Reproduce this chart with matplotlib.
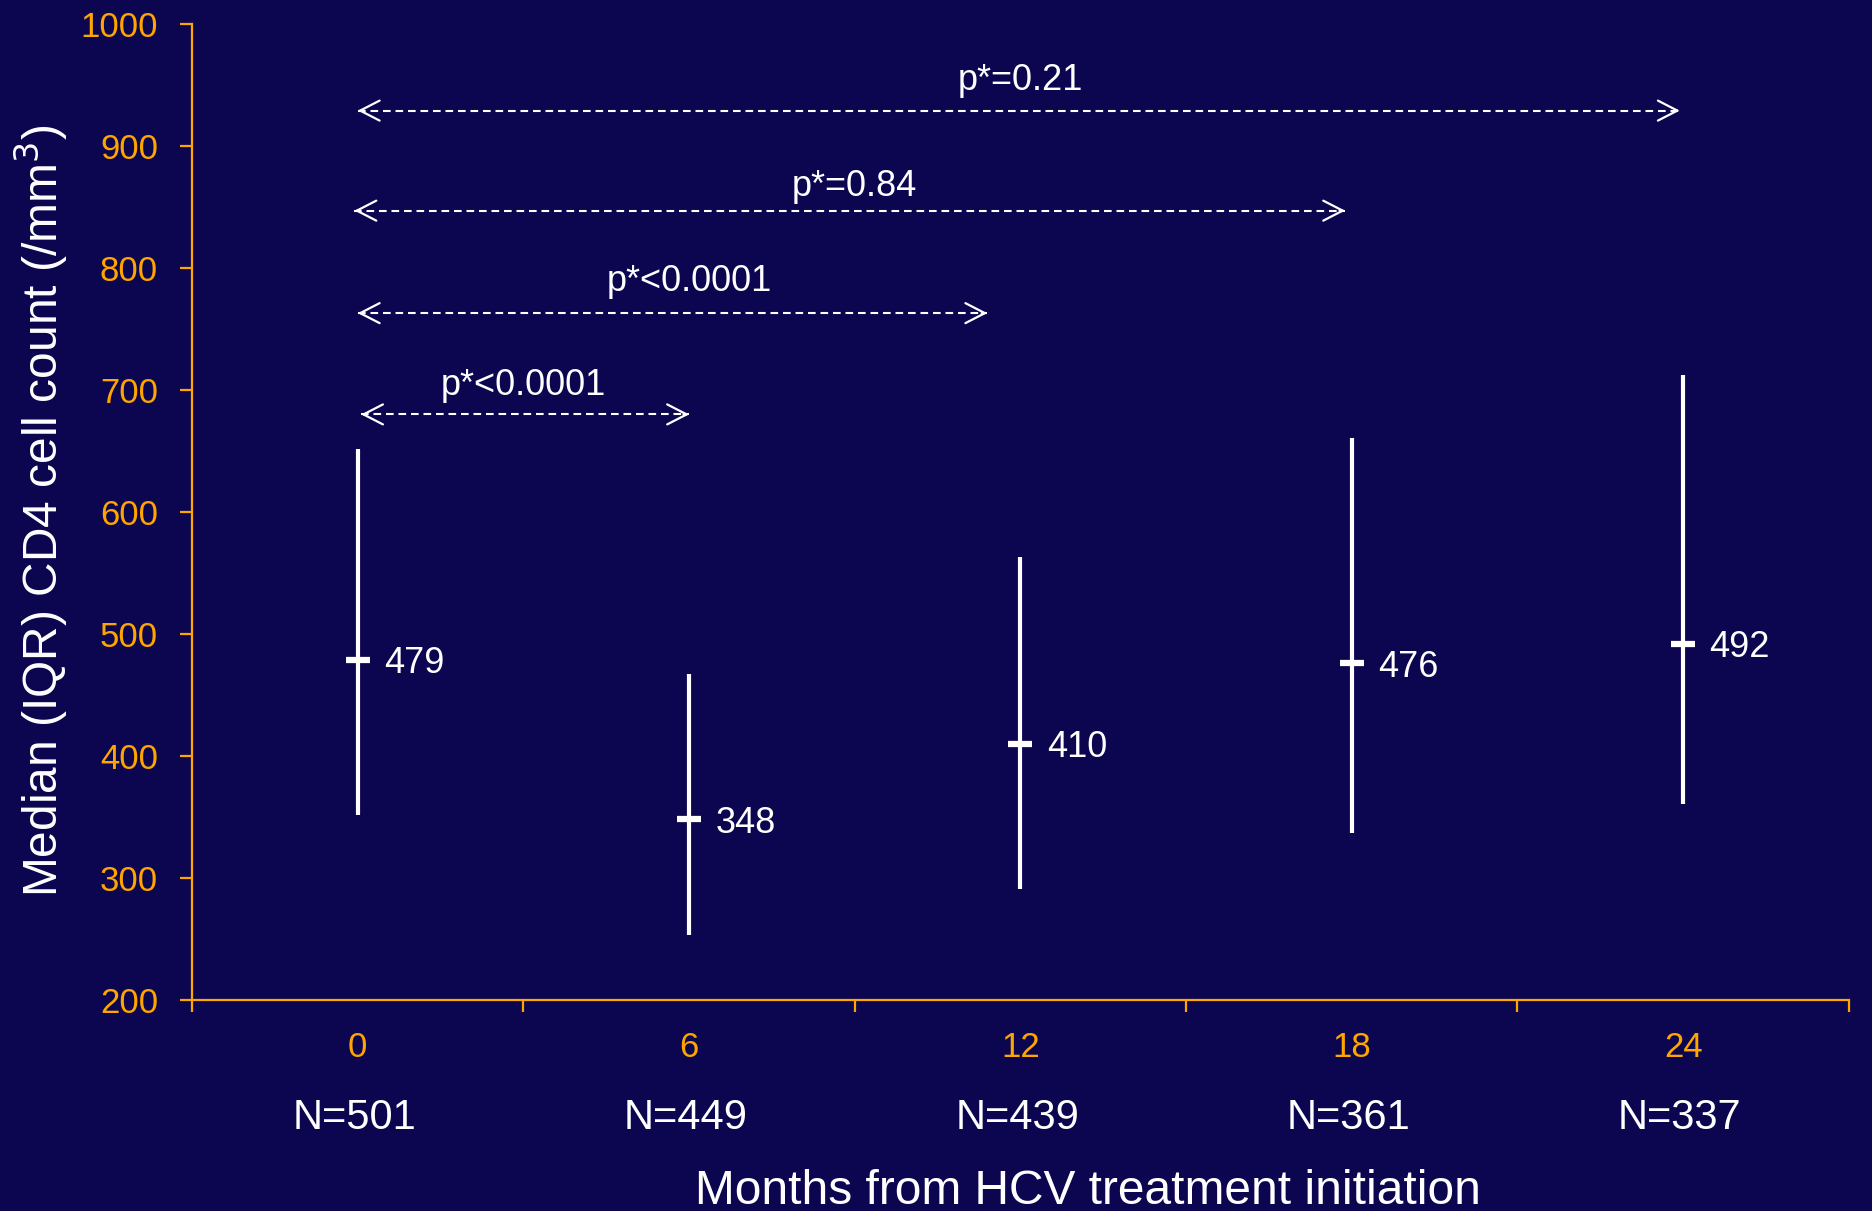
import matplotlib
matplotlib.use("Agg")
import matplotlib.pyplot as plt
import numpy as np

# Median (IQR) CD4 counts by months from HCV treatment start
months = ["0", "6", "12", "18", "24"]
n_patients = [501, 449, 439, 361, 337]
median_cd4 = [479, 348, 410, 476, 492]
q1_cd4 = [352, 253, 291, 337, 361]
q3_cd4 = [652, 467, 563, 661, 712]

# comparisons against month 0 (dashed double arrows)
p_labels = ["p*<0.0001", "p*<0.0001", "p*=0.84", "p*=0.21"]
compare_to = [1, 2, 3, 4]
arrow_start = [0.01, 0.0, -0.01, 0.0]
arrow_end = [1.0, 1.9, 2.98, 3.99]
arrow_y = [680, 763, 847, 929]
label_y = [707, 792, 870, 957]

bg = "#0b064f"
orange = "#ffa500"
white = "white"

plt.rcParams["font.family"] = ["Liberation Sans", "DejaVu Sans"]
plt.rcParams["lines.scale_dashes"] = False

fig = plt.figure(figsize=(18.72, 12.11), dpi=100, facecolor=bg)
ax = fig.add_axes([0.1026, 0.1742, 0.885, 0.806])
ax.set_facecolor(bg)

x = np.arange(len(months))

# IQR bars and median marks
ax.vlines(x, q1_cd4, q3_cd4, color=white, lw=3)
ax.plot(x, median_cd4, ls="none", marker="_", ms=17, mew=4.5, color=white)
for xi, m in zip(x, median_cd4):
    ax.annotate(str(m), (xi, m), xytext=(19, 0), textcoords="offset points",
                ha="left", va="center_baseline", color=white, fontsize=26)

# dashed comparison arrows
for x0, x1, y, k, lab, ly in zip(arrow_start, arrow_end, arrow_y, compare_to, p_labels, label_y):
    ax.plot([x0, x1], [y, y], color=white, lw=1.5, dashes=(5.5, 3.5))
    head = dict(arrowstyle="->,head_length=0.7,head_width=0.36", color=white,
                lw=1.6, mutation_scale=20, shrinkA=0, shrinkB=0)
    ax.annotate("", xy=(x1, y), xytext=(-4, 0), textcoords="offset points", arrowprops=head)
    ax.annotate("", xy=(x0, y), xytext=(4, 0), textcoords="offset points", arrowprops=head)
    ax.text(k / 2, ly, lab, ha="center", va="center_baseline", color=white, fontsize=26)

ax.set_xlim(-0.5, len(months) - 0.5)
ax.set_ylim(200, 1000)

for side in ["top", "right"]:
    ax.spines[side].set_visible(False)
for side in ["left", "bottom"]:
    ax.spines[side].set_color(orange)
    ax.spines[side].set_linewidth(1.6)

ax.set_yticks(np.arange(200, 1001, 100))
ax.tick_params(axis="y", colors=orange, labelsize=25, length=8.6, width=1.6, pad=16)

ax.set_xticks(x)
ax.set_xticklabels(months)
ax.set_xticks(np.arange(-0.5, len(months), 1.0), minor=True)
ax.tick_params(axis="x", which="major", colors=orange, labelsize=25, length=0, pad=22)
ax.tick_params(axis="x", which="minor", color=orange, length=8.6, width=1.6)

for xi, n in zip(x, n_patients):
    ax.text(xi - 0.01, -0.116, f"N={n}", transform=ax.get_xaxis_transform(),
            ha="center", va="center_baseline", color=white, fontsize=30)

ax.set_xlabel("Months from HCV treatment initiation", color=white, fontsize=34.5)
ax.xaxis.set_label_coords(0.541, -0.173)
ax.set_ylabel("Median (IQR) CD4 cell count (/mm$^3$)", color=white, fontsize=34.5)
ax.yaxis.set_label_coords(-0.0735, 0.501)

fig.savefig("out.png", dpi=100, facecolor=bg)
